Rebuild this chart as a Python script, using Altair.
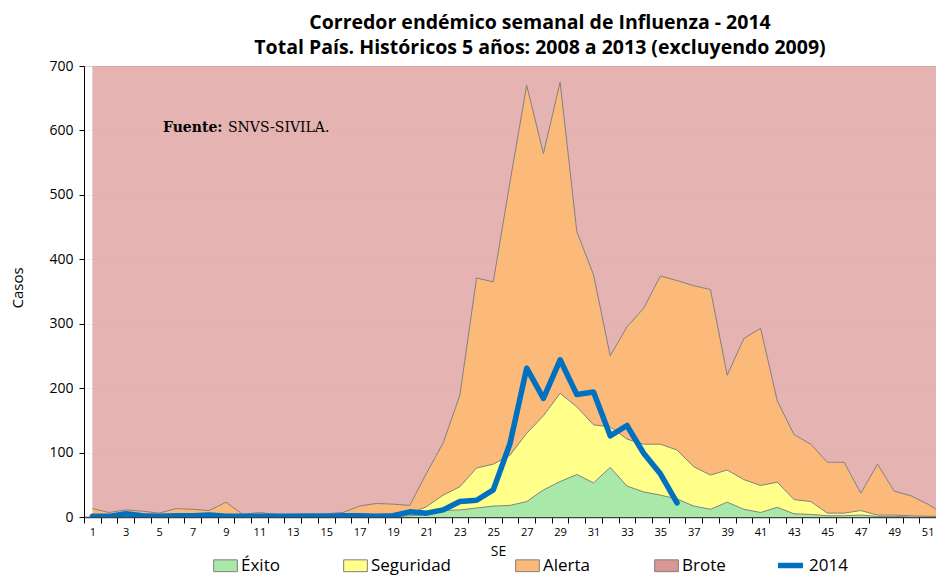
import altair as alt
import pandas as pd

semanas = list(range(1, 53))

# upper boundary of each zone (cumulative)
exito = [1, 1, 1, 1, 1, 1, 1, 1, 1, 1, 1, 1, 1, 1, 1, 1, 1, 1, 1, 2,
         4, 10, 11, 14, 17, 18, 24, 42, 55, 66, 53, 77, 48, 39, 34, 28, 17, 12, 23, 12,
         7, 15, 5, 4, 2, 2, 3, 1, 1, 0, 0, 0]
seguridad = [3, 2, 4, 3, 2, 3, 3, 3, 4, 2, 2, 2, 2, 2, 2, 2, 3, 4, 4, 5,
             16, 34, 47, 76, 82, 96, 130, 157, 192, 171, 143, 140, 121, 113, 113, 104, 78, 65, 73, 58,
             49, 54, 27, 24, 6, 6, 10, 3, 3, 2, 1, 1]
alerta = [13, 7, 11, 9, 6, 13, 12, 10, 23, 4, 7, 4, 4, 5, 5, 7, 17, 21, 20, 18,
          68, 115, 189, 371, 365, 520, 670, 564, 675, 443, 376, 250, 295, 324, 374, 367, 359, 353, 220, 277,
          293, 180, 128, 113, 85, 85, 37, 82, 40, 33, 20, 4]
semanas_2014 = list(range(1, 37))
casos_2014 = [1, 1, 5, 2, 1, 2, 2, 3, 1, 1, 1, 1, 1, 1, 1, 2, 2, 1, 2, 8,
              6, 11, 24, 26, 42, 114, 231, 184, 244, 190, 194, 126, 142, 99, 67, 22]

y_max = 700
y_ticks = [0, 100, 200, 300, 400, 500, 600, 700]
series = ["Éxito", "Seguridad", "Alerta", "Brote"]
colores = ["#A8E8A8", "#FFFF8A", "#FCBA7A", "#D99694"]

rows = []
for i, w in enumerate(semanas):
    b = [0, exito[i], seguridad[i], alerta[i], y_max]
    for j, s in enumerate(series):
        rows.append({"semana": w, "serie": s, "inferior": b[j], "superior": b[j + 1]})
df_areas = pd.DataFrame(rows)

rows_l = []
for i, w in enumerate(semanas):
    for name, vals in (("Éxito", exito), ("Seguridad", seguridad), ("Alerta", alerta)):
        rows_l.append({"semana": w, "limite": name, "valor": vals[i]})
df_lim = pd.DataFrame(rows_l)

df_2014 = pd.DataFrame({"semana": semanas_2014, "casos": casos_2014, "serie": "2014"})

W = 852
H = 451
x_max = 51.5
px_week = W / (x_max - 0.5)
half = px_week / 2
FONT = "Open Sans"

x_enc = alt.X(
    "semana:Q",
    scale=alt.Scale(domain=[0.5, x_max], nice=False, zero=False),
    axis=alt.Axis(
        values=[k + 0.5 for k in range(0, 52)],
        tickCount=200,
        labelOverlap=False,
        labelFlush=False,
        labelExpr="((datum.value - 0.5) % 2 == 1) ? toString(datum.value - 0.5) : ''",
        labelOffset=-half,
        labelFontSize=11,
        labelFont=FONT,
        labelColor="#000000",
        labelPadding=3,
        tickSize=6,
        tickColor="#000000",
        domainColor="#404040",
        domainWidth=1.5,
        grid=False,
        title="SE",
        titleFont=FONT,
        titleFontSize=14,
        titleFontWeight="normal",
        titleColor="#000000",
        titleX=414,
        titleY=34,
        titleBaseline="middle",
    ),
)

y_scale = alt.Scale(domain=[0, y_max], nice=False, zero=True)
y_axis = alt.Axis(
    values=y_ticks,
    labelFontSize=14,
    labelFont=FONT,
    labelColor="#000000",
    labelPadding=6,
    tickSize=5,
    tickColor="#000000",
    domainColor="#000000",
    grid=True,
    gridColor="#c99596",
    gridDash=[2, 2],
    gridWidth=0.6,
    gridOpacity=0.5,
    title="Casos",
    titleFont=FONT,
    titleFontSize=15,
    titleFontWeight="normal",
    titleColor="#000000",
    titleX=-67,
    titleY=H / 2 - 4,
    titleBaseline="middle",
)

areas = alt.Chart(df_areas).mark_area(clip=True, interpolate="linear").encode(
    x=x_enc,
    y=alt.Y("superior:Q", scale=y_scale, axis=y_axis),
    y2="inferior:Q",
    color=alt.Color(
        "serie:N",
        scale=alt.Scale(domain=series, range=colores),
        legend=alt.Legend(
            title=None,
            orient="none",
            direction="horizontal",
            legendX=129,
            legendY=487,
            symbolType="M-1,-0.5H1V0.5H-1Z",
            symbolSize=560,
            symbolStrokeColor="#7f7f7f",
            symbolStrokeWidth=1,
            symbolOpacity=1,
            labelFont=FONT,
            labelFontSize=17,
            labelColor="#000000",
            labelOffset=3,
            columnPadding=61,
        ),
    ),
    opacity=alt.condition(alt.datum.serie == "Brote", alt.value(0.72), alt.value(1.0)),
)

limites = alt.Chart(df_lim).mark_line(clip=True, color="#808080", strokeWidth=1).encode(
    x="semana:Q",
    y="valor:Q",
    detail="limite:N",
)

linea = alt.Chart(df_2014).mark_line(clip=True, strokeWidth=5.5, strokeJoin="round", strokeCap="round").encode(
    x="semana:Q",
    y="casos:Q",
    stroke=alt.Stroke(
        "serie:N",
        scale=alt.Scale(domain=["2014"], range=["#0070C0"]),
        legend=alt.Legend(
            title=None,
            orient="none",
            direction="horizontal",
            legendX=691,
            legendY=484,
            symbolType="stroke",
            symbolSize=625,
            symbolStrokeWidth=5.5,
            labelFont=FONT,
            labelFontSize=17,
            labelColor="#000000",
            labelOffset=3,
        ),
    ),
)

fuente_b = alt.Chart(pd.DataFrame({"t": ["Fuente:"]})).mark_text(
    align="left", baseline="middle", font="DejaVu Serif", fontSize=14, fontWeight="bold", color="#000000"
).encode(x=alt.value(79), y=alt.value(62), text="t:N")

fuente_r = alt.Chart(pd.DataFrame({"t": ["SNVS-SIVILA."]})).mark_text(
    align="left", baseline="middle", font="DejaVu Serif", fontSize=14, color="#000000"
).encode(x=alt.value(144), y=alt.value(62), text="t:N")

chart = alt.layer(areas, limites, linea, fuente_b, fuente_r).properties(
    width=W,
    height=H,
    autosize=alt.AutoSizeParams(type="none"),
    padding={"left": 76, "top": 58, "right": 0, "bottom": 60},
    title=alt.TitleParams(
        text=["Corredor endémico semanal de Influenza - 2014",
              "Total País. Históricos 5 años: 2008 a 2013 (excluyendo 2009)"],
        font=FONT,
        fontSize=19.5,
        fontWeight="bold",
        lineHeight=25,
        color="#000000",
        anchor="middle",
        frame="group",
        dx=30,
        offset=1,
    ),
).configure_view(stroke=None).configure(background="#ffffff")

chart.save("out.html", embed_options={"renderer": "svg", "actions": False})
